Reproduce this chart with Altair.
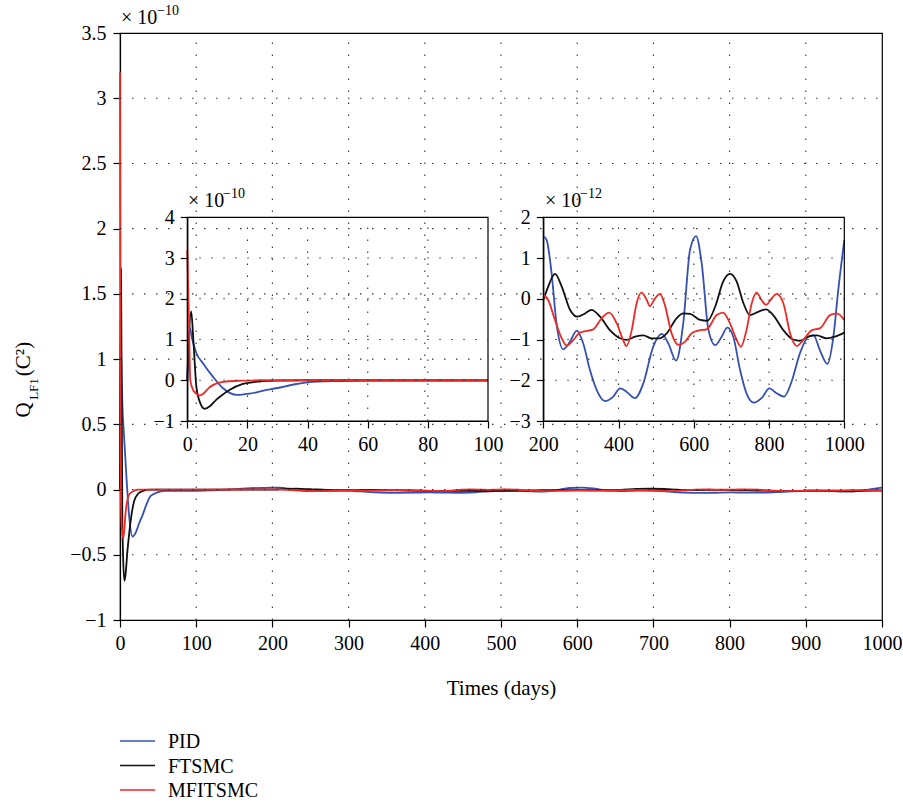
import altair as alt
import pandas as pd

# ---------------- data ----------------
series = ["PID", "FTSMC", "MFITSMC"]
colors = ["#3451b2", "#111111", "#ee2a24"]

# early transient, days 0-100, units of 1e-10
pid_early_t = [0, 0.8, 1.5, 3, 5.2, 8.5, 11.8, 16.5, 20.6, 25, 30, 35, 40, 50, 60, 80, 100]
pid_early_v = [0, 1.3, 1.05, 0.67, 0.42, 0.09, -0.19, -0.36, -0.33, -0.26, -0.19, -0.11, -0.05, -0.02, -0.01, -0.01, -0.01]
ftsmc_early_t = [0, 1.3, 2.0, 3.0, 4.0, 5.8, 7.5, 9.6, 12, 14, 18.5, 24, 30, 40, 100]
ftsmc_early_v = [0, 1.69, 1.0, -0.15, -0.5, -0.70, -0.64, -0.48, -0.34, -0.24, -0.09, -0.03, -0.01, 0, 0]
mfitsmc_early_t = [0, 0.5, 1.0, 2.0, 3.0, 4.1, 5.5, 7, 8.5, 10.5, 13, 18, 25, 100]
mfitsmc_early_v = [3.2, 1.6, 0.0, -0.25, -0.33, -0.37, -0.32, -0.2, -0.12, -0.06, -0.03, -0.01, 0, 0]

# steady-state ripple, days 200-1000, units of 1e-12
pid_late_t = [200, 209, 222, 235, 253, 271, 289, 306, 324, 342, 364, 386, 404, 421, 444, 466, 492, 515, 532, 553,
              572, 590, 606, 621, 639, 657, 674, 689, 705, 723, 740, 760, 780, 801, 820, 840, 860, 882, 904, 918,
              935, 955, 971, 984, 1000]
pid_late_v = [1.54, 1.44, 0.63, -0.6, -1.24, -1.05, -0.78, -1.09, -1.75, -2.24, -2.51, -2.40, -2.20, -2.28, -2.44,
              -2.07, -1.18, -0.86, -1.09, -1.52, -0.6, 1.2, 1.54, 0.87, -0.77, -1.14, -0.93, -0.71, -0.93, -1.75,
              -2.32, -2.55, -2.44, -2.20, -2.32, -2.40, -2.03, -1.34, -0.93, -0.89, -1.26, -1.60, -0.93, 0.22, 1.44]
ftsmc_late_t = [200, 213, 231, 249, 271, 290, 311, 328, 351, 377, 404, 421, 444, 466, 488, 510, 528, 554, 572, 590,
                617, 636, 657, 678, 696, 714, 732, 749, 771, 792, 811, 838, 864, 882, 904, 927, 953, 975, 1000]
ftsmc_late_v = [-0.03, 0.30, 0.61, 0.30, -0.27, -0.44, -0.36, -0.27, -0.44, -0.77, -0.97, -1.01, -0.93, -0.90,
                -0.97, -0.97, -0.85, -0.48, -0.36, -0.37, -0.52, -0.54, -0.19, 0.42, 0.61, 0.42, -0.11, -0.40,
                -0.32, -0.26, -0.40, -0.77, -1.00, -1.03, -0.93, -0.90, -0.97, -0.93, -0.83]
mfitsmc_late_t = [200, 213, 231, 249, 262, 280, 297, 320, 333, 355, 375, 395, 412, 421, 435, 448, 461, 475, 483,
                  497, 510, 523, 541, 559, 577, 594, 612, 634, 661, 678, 696, 714, 725, 740, 754, 767, 780, 792,
                  807, 820, 838, 856, 874, 891, 914, 936, 962, 980, 1000]
mfitsmc_late_v = [0.09, -0.03, -0.52, -0.97, -1.15, -1.01, -0.83, -0.78, -0.75, -0.48, -0.34, -0.60, -1.01, -1.16,
                  -0.77, -0.11, 0.15, -0.03, -0.18, 0.01, 0.12, -0.15, -0.85, -1.13, -1.05, -0.85, -0.78, -0.75,
                  -0.40, -0.34, -0.60, -1.01, -1.18, -0.77, -0.11, 0.15, -0.03, -0.15, 0.01, 0.12, -0.11, -0.85,
                  -1.16, -1.01, -0.77, -0.72, -0.40, -0.36, -0.52]

main_x_ticks = [0, 100, 200, 300, 400, 500, 600, 700, 800, 900, 1000]
main_y_ticks = [-1, -0.5, 0, 0.5, 1, 1.5, 2, 2.5, 3, 3.5]
in1_x_ticks = [0, 20, 40, 60, 80, 100]
in1_y_ticks = [-1, 0, 1, 2, 3, 4]
in2_x_ticks = [200, 400, 600, 800, 1000]
in2_y_ticks = [-3, -2, -1, 0, 1, 2]


def long(ts, vs, name, k=1.0):
    return pd.DataFrame({"t": ts, "v": [x * k for x in vs], "series": name})


early = pd.concat([long(pid_early_t, pid_early_v, "PID"),
                   long(ftsmc_early_t, ftsmc_early_v, "FTSMC"),
                   long(mfitsmc_early_t, mfitsmc_early_v, "MFITSMC")], ignore_index=True)
late = pd.concat([long(pid_late_t, pid_late_v, "PID"),
                  long(ftsmc_late_t, ftsmc_late_v, "FTSMC"),
                  long(mfitsmc_late_t, mfitsmc_late_v, "MFITSMC")], ignore_index=True)
main = pd.concat([long(pid_early_t, pid_early_v, "PID"), long(pid_late_t, pid_late_v, "PID", 0.01),
                  long(ftsmc_early_t, ftsmc_early_v, "FTSMC"), long(ftsmc_late_t, ftsmc_late_v, "FTSMC", 0.01),
                  long(mfitsmc_early_t, mfitsmc_early_v, "MFITSMC"),
                  long(mfitsmc_late_t, mfitsmc_late_v, "MFITSMC", 0.01)], ignore_index=True)

# ---------------- layout ----------------
W, H = 762, 587
FONT = "Liberation Serif"
FS = 20
GRID = dict(color="#333333", strokeDash=[1.5, 10.5], strokeWidth=1.1)
LW = 1.8

color_enc = alt.Color("series:N", scale=alt.Scale(domain=series, range=colors), legend=None)


def axis(orient, values, offset=0, fmt="~g", title=None, **kw):
    d = dict(orient=orient, values=values, offset=offset, format=fmt, grid=False,
             labelFont=FONT, labelFontSize=FS, labelColor="black", tickSize=7, tickColor="black",
             tickWidth=1.2, domainColor="black", domainWidth=1.2, labelPadding=6, labelFlush=False,
             labelOverlap=False)
    if title is not None:
        d.update(title=title, titleFont=FONT, titleFontSize=21, titleFontWeight="normal", titleColor="black")
    else:
        d.update(title=None)
    d.update(kw)
    return alt.Axis(**d)


def panel(df, xs, ys, xaxis, yaxis, xgrid, ygrid, xdom, ydom, frame=False):
    lines = alt.Chart(df).mark_line(strokeWidth=LW, interpolate="monotone").encode(
        x=alt.X("t:Q", scale=xs, axis=xaxis),
        y=alt.Y("v:Q", scale=ys, axis=yaxis),
        color=color_enc,
    )
    vg = alt.Chart(pd.DataFrame({"g": xgrid, "lo": ydom[0], "hi": ydom[1]})).mark_rule(**GRID).encode(
        x=alt.X("g:Q", scale=xs), y=alt.Y("lo:Q", scale=ys), y2="hi:Q")
    hg = alt.Chart(pd.DataFrame({"g": ygrid, "lo": xdom[0], "hi": xdom[1]})).mark_rule(**GRID).encode(
        y=alt.Y("g:Q", scale=ys), x=alt.X("lo:Q", scale=xs), x2="hi:Q")
    layers = [lines, vg, hg]
    if frame:
        fr = alt.Chart(pd.DataFrame({"x0": [xdom[0]], "x1": [xdom[1]], "y0": [ydom[0]], "y1": [ydom[1]]})) \
            .mark_rect(fillOpacity=0, stroke="black", strokeWidth=1.2).encode(
            x=alt.X("x0:Q", scale=xs), x2="x1:Q",
            y=alt.Y("y0:Q", scale=ys), y2="y1:Q")
        layers.append(fr)
    return alt.layer(*layers)


main_xs = alt.Scale(domain=[0, 1000], nice=False, zero=False)
main_ys = alt.Scale(domain=[-1, 3.5], nice=False, zero=False)
main_panel = panel(main, main_xs, main_ys,
                   axis("bottom", main_x_ticks, fmt="d", title="Times (days)", titlePadding=24),
                   axis("left", main_y_ticks, labelPadding=7),
                   main_x_ticks[1:-1], main_y_ticks[1:-1], [0, 1000], [-1, 3.5])

i1_xs = alt.Scale(domain=[0, 100], range=[67.3, 368], nice=False, zero=False)
i1_ys = alt.Scale(domain=[-1, 4], range=[388, 184.3], nice=False, zero=False)
inset1 = panel(early, i1_xs, i1_ys,
               axis("bottom", in1_x_ticks, offset=-199, fmt="d"),
               axis("left", in1_y_ticks, offset=-67.3),
               in1_x_ticks[1:-1], in1_y_ticks[1:-1], [0, 100], [-1, 4], frame=True)

i2_xs = alt.Scale(domain=[200, 1000], range=[423.3, 724.3], nice=False, zero=False)
i2_ys = alt.Scale(domain=[-3, 2], range=[388, 184.3], nice=False, zero=False)
inset2 = panel(late, i2_xs, i2_ys,
               axis("bottom", in2_x_ticks, offset=-199, fmt="d"),
               axis("left", in2_y_ticks, offset=-423.3),
               in2_x_ticks[1:-1], in2_y_ticks[1:-1], [200, 1000], [-3, 2], frame=True)

# ---------------- legend (series placed by a point scale below the plot) ----------------
leg_df = pd.DataFrame({"series": series})
leg_y = alt.Y("series:N", scale=alt.Scale(type="point", domain=series, range=[708, 757], padding=0),
              axis=None)
leg_lines = alt.Chart(leg_df).mark_rule(strokeWidth=1.3).encode(
    y=leg_y, x=alt.value(0), x2=alt.value(35), color=color_enc)
leg_text = alt.Chart(leg_df).mark_text(font=FONT, fontSize=FS, color="black", align="left",
                                       baseline="middle", dy=1).encode(
    y=leg_y, x=alt.value(48), text="series:N")
legend_layer = alt.layer(leg_lines, leg_text)

# ---------------- text annotations ----------------
one = pd.DataFrame({"a": [0]})


def txt(s, x, y, size=FS, angle=0, align="left", baseline="alphabetic"):
    return alt.Chart(one).mark_text(text=s, font=FONT, fontSize=size, color="black", angle=angle,
                                    align=align, baseline=baseline).encode(x=alt.value(x), y=alt.value(y))


texts = [
    txt("× 10", 1, -9.5), txt("−10", 37, -18, size=14),
    txt("× 10", 68, 174), txt("−10", 103, 165, size=14),
    txt("× 10", 425, 174), txt("−12", 460, 165, size=14),
    txt("Q", -90, 377, size=21, angle=270, align="center"),
    txt("LF1", -82, 356, size=13, angle=270, align="center"),
    txt("(C²)", -90, 326, size=21, angle=270, align="center"),
]

chart = alt.layer(main_panel, inset1, inset2, legend_layer, *texts).resolve_scale(
    x="independent", y="independent"
).properties(
    width=W, height=H,
    background="white",
    autosize=alt.AutoSizeParams(type="none"),
    padding={"left": 120, "top": 33, "right": 21, "bottom": 183},
).configure_view(stroke="black", strokeWidth=1.2)

chart.save("out.html", embed_options={"renderer": "svg", "actions": False})
